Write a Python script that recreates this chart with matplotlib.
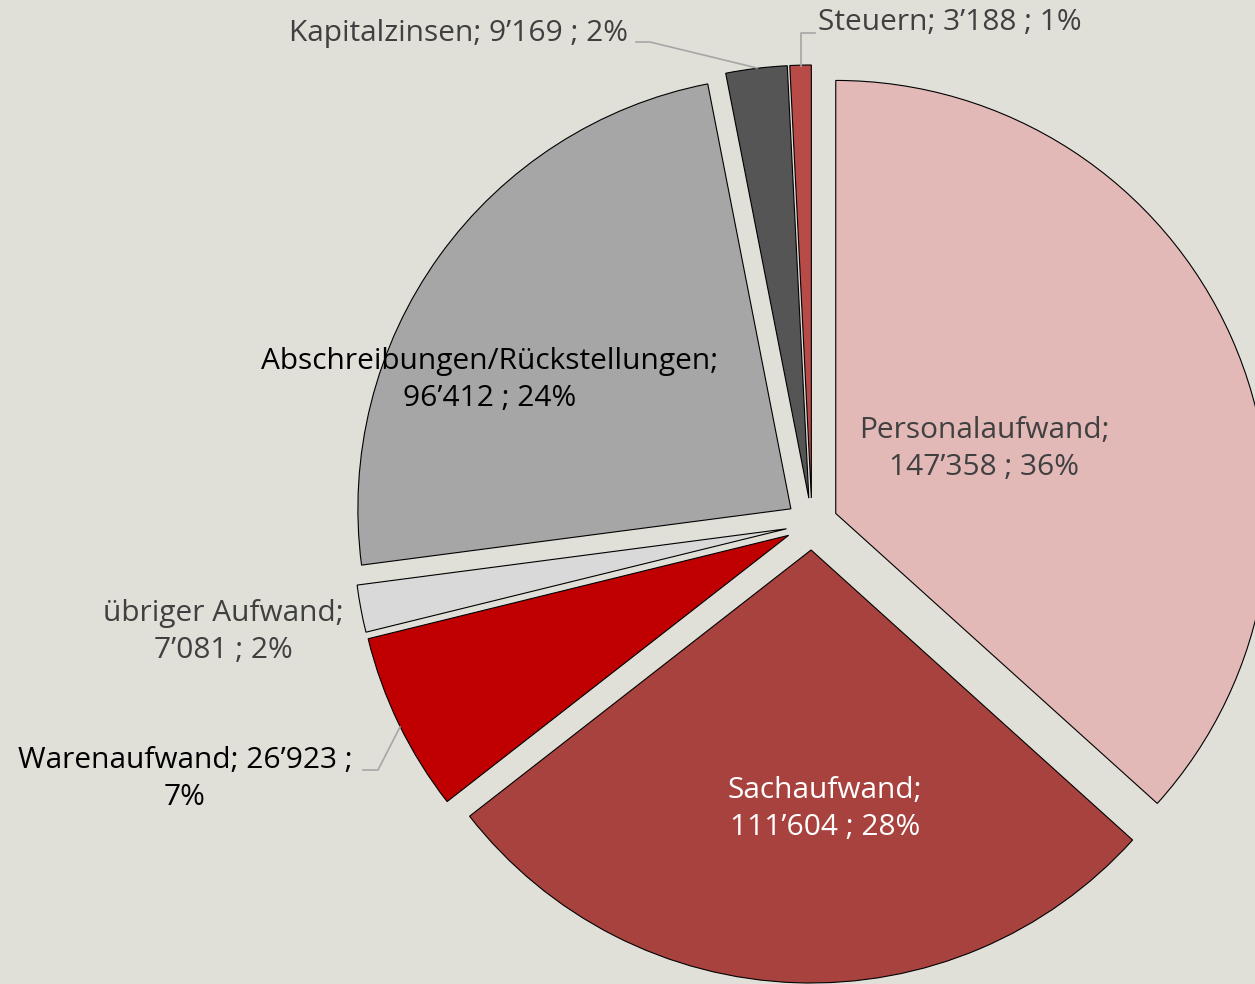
import matplotlib.pyplot as plt
from matplotlib.transforms import Affine2D

# Daten
kategorien = ["Personalaufwand", "Sachaufwand", "Warenaufwand", "übriger Aufwand",
              "Abschreibungen/Rückstellungen", "Kapitalzinsen", "Steuern"]
werte = [147358, 111604, 26923, 7081, 96412, 9169, 3188]
prozent = ["36%", "28%", "7%", "2%", "24%", "2%", "1%"]
farben = ["#E3B9B8", "#A8423E", "#C00000", "#D9D9D9", "#A6A6A6", "#555555", "#B84A47"]

bg = "#E0DFD8"
plt.rcParams['font.family'] = ['Open Sans', 'DejaVu Sans']

W, H = 1255, 984
fig = plt.figure(figsize=(W / 100, H / 100), dpi=100, facecolor=bg)
ax = fig.add_axes([0, 0, 1, 1])
ax.set_facecolor(bg)
ax.axis('off')

R = 433
cx, cy = 812, 524
wedges, _ = ax.pie(werte, colors=farben, startangle=90, counterclock=False,
                   radius=R, center=(cx, -cy), explode=[26] * len(werte),
                   wedgeprops=dict(edgecolor='black', linewidth=0.8))
# pie zeichnet mit y nach oben, Achse ist umgedreht -> spiegeln
for w in wedges:
    w.set_transform(Affine2D().scale(1, -1) + ax.transData)
ax.set_xlim(0, W)
ax.set_ylim(H, 0)
ax.set_aspect('auto')


def fmt(v):
    return f"{v:,}".replace(",", "’")


fs = 21.5
ls = 1.32
lab = {k: f"{k}; {fmt(v)} ; {p}" for k, v, p in zip(kategorien, werte, prozent)}

ax.text(984, 449, f"Personalaufwand;\n{fmt(werte[0])} ; {prozent[0]}", ha='center', va='center',
        fontsize=fs, color='#404040', linespacing=ls)
ax.text(825, 809, f"Sachaufwand;\n{fmt(werte[1])} ; {prozent[1]}", ha='center', va='center',
        fontsize=fs, color='white', linespacing=ls)
ax.text(490, 380, f"Abschreibungen/Rückstellungen;\n{fmt(werte[4])} ; {prozent[4]}", ha='center',
        va='center', fontsize=fs, color='black', linespacing=ls)
ax.text(223, 632, f"übriger Aufwand;\n{fmt(werte[3])} ; {prozent[3]}", ha='center', va='center',
        fontsize=fs, color='#404040', linespacing=ls)
ax.text(185, 779, f"Warenaufwand; {fmt(werte[2])} ;\n{prozent[2]}", ha='center', va='center',
        fontsize=fs, color='black', linespacing=ls)
ax.text(628, 33, lab["Kapitalzinsen"], ha='right', va='center', fontsize=fs, color='#404040')
ax.text(818, 22, lab["Steuern"], ha='left', va='center', fontsize=fs, color='#404040')

# Führungslinien
lc = '#A6A6A6'
ax.plot([636, 650, 757], [42, 42, 68], color=lc, lw=1.2)
ax.plot([815, 801, 801], [33, 33, 66], color=lc, lw=1.2)
ax.plot([363, 378, 400], [770, 770, 727], color=lc, lw=1.2)

fig.savefig("out.png", dpi=100, facecolor=bg)
